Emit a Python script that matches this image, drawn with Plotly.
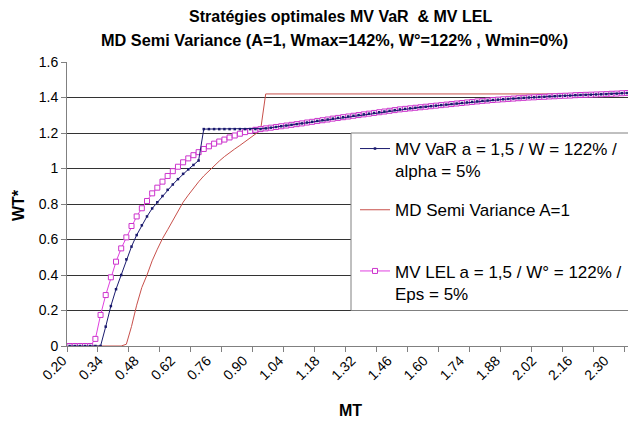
import plotly.graph_objects as go

# Category axis (MT) : 0.20 .. 2.40 step 0.02
mt = [round(0.20 + 0.02 * i, 2) for i in range(111)]

lel = [0, 0, 0, 0, 0, 0.04, 0.175, 0.287, 0.387, 0.475, 0.55, 0.612, 0.676, 0.73, 0.776, 0.817, 0.86, 0.892, 0.926, 0.958,
       0.985, 1.01, 1.035, 1.057, 1.075, 1.092, 1.11, 1.125, 1.14, 1.152,
       1.163, 1.175, 1.186, 1.196, 1.205, 1.212, 1.218, 1.222, 1.226, 1.230,
       1.234, 1.238, 1.242, 1.246, 1.250, 1.254, 1.259, 1.263, 1.268, 1.272,
       1.276, 1.281, 1.285, 1.289, 1.293, 1.297, 1.301, 1.305, 1.309, 1.313,
       1.317, 1.321, 1.325, 1.329, 1.333, 1.336, 1.339, 1.342, 1.345, 1.348,
       1.351, 1.354, 1.357, 1.360, 1.363, 1.366, 1.369, 1.372, 1.375, 1.378,
       1.381, 1.383, 1.386, 1.388, 1.390, 1.392, 1.394, 1.396, 1.398, 1.400,
       1.401, 1.403, 1.404, 1.406, 1.407, 1.409, 1.410, 1.411, 1.413, 1.414,
       1.415, 1.416, 1.417, 1.418, 1.419, 1.421, 1.422, 1.424, 1.425, 1.426, 1.428]

var = [0, 0, 0, 0, 0, 0, 0,
       0.109, 0.225, 0.32, 0.40, 0.488, 0.56, 0.625, 0.68, 0.73, 0.775, 0.81, 0.845, 0.88, 0.91,
       0.94, 0.97, 0.995, 1.02, 1.045,
       1.222, 1.222, 1.222, 1.222, 1.222, 1.222, 1.222, 1.222, 1.222, 1.222, 1.222,
       1.222, 1.226, 1.230,
       1.234, 1.238, 1.242, 1.246, 1.250, 1.254, 1.259, 1.263, 1.268, 1.272,
       1.276, 1.281, 1.285, 1.289, 1.293, 1.297, 1.301, 1.305, 1.309, 1.313,
       1.317, 1.321, 1.325, 1.329, 1.333, 1.336, 1.339, 1.342, 1.345, 1.348,
       1.351, 1.354, 1.357, 1.360, 1.363, 1.366, 1.369, 1.372, 1.375, 1.378,
       1.381, 1.383, 1.386, 1.388, 1.390, 1.392, 1.394, 1.396, 1.398, 1.400,
       1.401, 1.403, 1.404, 1.406, 1.407, 1.409, 1.410, 1.411, 1.413, 1.414,
       1.415, 1.416, 1.417, 1.418, 1.419, 1.421, 1.422, 1.424, 1.425, 1.426, 1.428]

semivar = ([0] * 11 +
           [0.01, 0.11, 0.23, 0.33, 0.40, 0.48, 0.545, 0.605, 0.655, 0.705, 0.76, 0.81, 0.85, 0.89,
            0.925, 0.958, 0.988, 1.016, 1.042, 1.067, 1.09, 1.11, 1.13, 1.15, 1.17, 1.19, 1.215] +
           [1.42] * 73)

xlabels = ["0.20", "0.34", "0.48", "0.62", "0.76", "0.90", "1.04", "1.18", "1.32",
           "1.46", "1.60", "1.74", "1.88", "2.02", "2.16", "2.30"]
xlabel_vals = [float(s) for s in xlabels]
xtick_marks = [round(0.19 + 0.12 * k, 2) for k in range(19)]

FONT = "Arial, Liberation Sans, sans-serif"

# page body has an 8px margin: the figure is shifted by 8px right/down
PX0, PY0 = 67, 62       # plot left / top in page pixels
PW, PH = 569, 284       # plot width / height


def px(x):
    return (x - PX0) / PW


def py(y):
    return (PY0 + PH - y) / PH


fig = go.Figure()
fig.add_trace(go.Scatter(x=mt, y=semivar, mode="lines", name="MD Semi Variance A=1<br>&nbsp;",
                         line=dict(color="#C8504B", width=1), legendrank=2, legendgroup="b"))
fig.add_trace(go.Scatter(x=mt, y=lel, mode="lines+markers",
                         name="MV LEL a = 1,5 / W° = 122% /<br>Eps = 5%",
                         line=dict(color="#E040E0", width=1),
                         marker=dict(symbol="square", size=5, color="white",
                                     line=dict(color="#CC33CC", width=1)),
                         legendrank=3, legendgroup="c"))
fig.add_trace(go.Scatter(x=mt, y=var, mode="lines+markers",
                         name="MV VaR a = 1,5 / W = 122% /<br>alpha = 5%",
                         line=dict(color="#1A1A6E", width=1),
                         marker=dict(symbol="square", size=2.5, color="#1A1A6E"),
                         legendrank=1, legendgroup="a"))

# legend frame
fig.add_shape(type="rect", xref="paper", yref="y", x0=px(351), x1=1.05, y0=0.2, y1=1.2,
              fillcolor="white", line=dict(color="#808080", width=1), layer="above")

fig.update_layout(
    width=628, height=421,
    margin=dict(l=PX0 - 8, r=0, t=PY0 - 8, b=421 - (PY0 + PH - 8)),
    paper_bgcolor="white", plot_bgcolor="white",
    font=dict(family=FONT, size=14, color="black"),
    showlegend=True,
    legend=dict(x=px(355), xanchor="left", y=py(131), yanchor="top",
                bgcolor="rgba(0,0,0,0)", borderwidth=0,
                font=dict(family=FONT, size=17, color="black"),
                traceorder="grouped", tracegroupgap=14, valign="top"),
    annotations=[
        dict(text="<b>Stratégies optimales MV VaR  & MV LEL</b>",
             xref="paper", yref="paper", x=px(340), y=py(16),
             xanchor="center", yanchor="middle", showarrow=False,
             font=dict(family=FONT, size=16, color="black")),
        dict(text="<b>MD Semi Variance (A=1, Wmax=142%, W°=122% , Wmin=0%)</b>",
             xref="paper", yref="paper", x=px(334.5), y=py(40),
             xanchor="center", yanchor="middle", showarrow=False,
             font=dict(family=FONT, size=16.3, color="black")),
        dict(text="<b>WT*</b>", xref="paper", yref="paper", x=px(18), y=py(205),
             xanchor="center", yanchor="middle", textangle=-90, showarrow=False,
             font=dict(family=FONT, size=16, color="black")),
        dict(text="<b>MT</b>", xref="paper", yref="paper", x=px(350), y=py(410),
             xanchor="center", yanchor="middle", showarrow=False,
             font=dict(family=FONT, size=16, color="black")),
    ],
)

fig.update_xaxes(range=[0.19, 2.395], tickmode="array", tickvals=xlabel_vals, ticktext=xlabels,
                 tickangle=-45, ticks="", showgrid=False, zeroline=False,
                 showline=True, linecolor="#808080", linewidth=1, ticklabelshift=-7,
                 tickfont=dict(family=FONT, size=14, color="black"),
                 minor=dict(tickmode="array", tickvals=xtick_marks, ticks="outside",
                            ticklen=5, tickcolor="#808080", showgrid=False))
fig.update_yaxes(range=[0, 1.6], dtick=0.2, tick0=0, showgrid=True, gridcolor="#333333", gridwidth=1,
                 zeroline=False, showline=True, linecolor="#808080", linewidth=1,
                 ticks="outside", ticklen=5, tickcolor="#808080",
                 tickfont=dict(family=FONT, size=14, color="black"))

fig.write_html("out.html")
